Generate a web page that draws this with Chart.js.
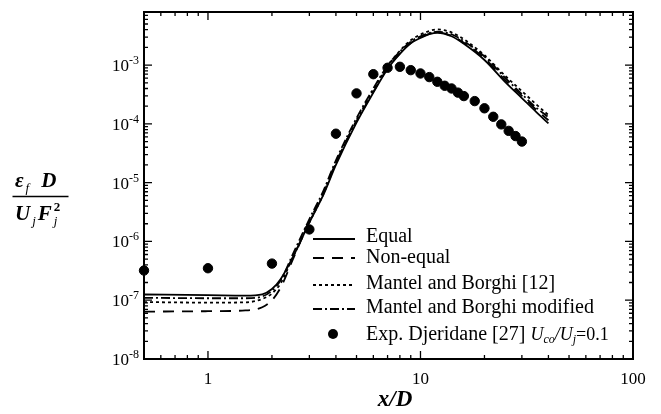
<!DOCTYPE html>
<html>
<head>
<meta charset="utf-8">
<script src="https://cdn.jsdelivr.net/npm/chart.js@4"></script>
<style>
html,body{margin:0;padding:0;background:#fff;}
canvas{display:block;}
</style>
</head>
<body>
<canvas id="c" width="661" height="414"></canvas>
<script>
// x/D where the model curves were read
const xModel = [0.5, 1, 1.5, 1.8, 2, 2.2, 2.5, 3, 3.5, 4, 5, 6, 7, 8, 9, 10, 11, 12, 14, 16, 20, 25, 30, 35, 40];
const yEqual = [1.25e-7, 1.22e-7, 1.2e-7, 1.26e-7, 1.55e-7, 2.3e-7, 5.3e-7, 2.1e-6, 6.3e-6, 2.0e-5, 1.05e-4, 3.4e-4, 8.6e-4, 1.55e-3, 2.35e-3, 2.9e-3, 3.35e-3, 3.55e-3, 3.1e-3, 2.3e-3, 1.22e-3, 5.2e-4, 2.75e-4, 1.6e-4, 1.02e-4];
const yNonEqual = [6.4e-8, 6.5e-8, 6.7e-8, 7.6e-8, 1.0e-7, 1.65e-7, 4.8e-7, 2.2e-6, 6.8e-6, 2.2e-5, 1.1e-4, 3.5e-4, 8.8e-4, 1.58e-3, 2.38e-3, 2.95e-3, 3.4e-3, 3.58e-3, 3.15e-3, 2.4e-3, 1.3e-3, 5.6e-4, 3.0e-4, 1.75e-4, 1.15e-4];
const yMantel = [9.3e-8, 9.1e-8, 9.2e-8, 1.05e-7, 1.3e-7, 1.95e-7, 5.2e-7, 2.1e-6, 6.5e-6, 2.15e-5, 1.15e-4, 3.8e-4, 9.6e-4, 1.75e-3, 2.65e-3, 3.3e-3, 3.8e-3, 4.05e-3, 3.6e-3, 2.75e-3, 1.47e-3, 6.6e-4, 3.6e-4, 2.16e-4, 1.41e-4];
const yMantelMod = [1.1e-7, 1.08e-7, 1.08e-7, 1.16e-7, 1.45e-7, 2.2e-7, 5.9e-7, 2.4e-6, 7.4e-6, 2.4e-5, 1.25e-4, 4.0e-4, 9.8e-4, 1.7e-3, 2.5e-3, 3.1e-3, 3.5e-3, 3.7e-3, 3.35e-3, 2.55e-3, 1.4e-3, 6.1e-4, 3.2e-4, 1.9e-4, 1.3e-4];

// Djeridane experiment
const xExp = [0.5, 1, 2, 3, 4, 5, 6, 7, 8, 9, 10, 11, 12, 13, 14, 15, 16, 18, 20, 22, 24, 26, 28, 30];
const yExp = [3.2e-7, 3.5e-7, 4.2e-7, 1.6e-6, 6.8e-5, 3.3e-4, 7.0e-4, 9.0e-4, 9.35e-4, 8.2e-4, 7.2e-4, 6.25e-4, 5.2e-4, 4.45e-4, 4.0e-4, 3.4e-4, 2.97e-4, 2.44e-4, 1.84e-4, 1.32e-4, 9.8e-5, 7.6e-5, 6.2e-5, 5.0e-5];

const xTickLabels = [1, 10, 100];
const yTickExps = [-8, -7, -6, -5, -4, -3];
const legendLabels = ['Equal', 'Non-equal', 'Mantel and Borghi [12]', 'Mantel and Borghi modified', 'Exp. Djeridane [27]'];

const SERIF = '"Liberation Serif", "Times New Roman", serif';

function pts(xs, ys) {
    return xs.map((x, i) => ({x: x, y: ys[i]}));
}

function lineSet(label, ys, dash) {
    return {
        type: 'line', label: label, data: pts(xModel, ys),
        borderColor: '#000', borderWidth: 1.8, borderDash: dash,
        pointRadius: 0, fill: false, cubicInterpolationMode: 'monotone'
    };
}

// text pieces with their own font and vertical shift
function drawRuns(ctx, x, y, runs) {
    runs.forEach(r => {
        ctx.font = r.f;
        ctx.fillText(r.t, x + (r.dx || 0), y + (r.dy || 0));
        if (!r.noAdvance) x += ctx.measureText(r.t).width + (r.dx || 0);
    });
    return x;
}

const framePlugin = {
    id: 'frame',
    afterDraw(chart) {
        const ctx = chart.ctx;
        const a = chart.chartArea;
        const xs = chart.scales.x, ys = chart.scales.y;
        ctx.save();
        ctx.strokeStyle = '#000';
        ctx.fillStyle = '#000';

        // ticks pointing inward, all four sides
        ctx.lineWidth = 1.3;
        ctx.beginPath();
        for (let d = -1; d <= 1; d++) {
            for (let m = 1; m <= 9; m++) {
                const v = m * Math.pow(10, d);
                if (v < 0.5 || v > 100) continue;
                const px = xs.getPixelForValue(v);
                const len = m === 1 ? 8 : 4;
                ctx.moveTo(px, a.bottom); ctx.lineTo(px, a.bottom - len);
                ctx.moveTo(px, a.top); ctx.lineTo(px, a.top + len);
            }
        }
        for (let d = -8; d <= -3; d++) {
            for (let m = 1; m <= 9; m++) {
                const v = m * Math.pow(10, d);
                if (v > ys.max) continue;
                const py = ys.getPixelForValue(v);
                const len = m === 1 ? 8 : 4;
                ctx.moveTo(a.left, py); ctx.lineTo(a.left + len, py);
                ctx.moveTo(a.right, py); ctx.lineTo(a.right - len, py);
            }
        }
        ctx.stroke();

        ctx.lineWidth = 2;
        ctx.strokeRect(a.left, a.top, a.right - a.left, a.bottom - a.top);

        // tick labels
        ctx.textBaseline = 'alphabetic';
        ctx.textAlign = 'center';
        ctx.font = '17px ' + SERIF;
        xTickLabels.forEach(v => {
            ctx.fillText(String(v), xs.getPixelForValue(v), 384);
        });
        ctx.textAlign = 'left';
        yTickExps.forEach(e => {
            const py = ys.getPixelForValue(Math.pow(10, e));
            ctx.font = '12px ' + SERIF;
            const wSup = ctx.measureText(String(e)).width;
            ctx.font = '17px ' + SERIF;
            const wBase = ctx.measureText('10').width;
            const x0 = a.left - 5 - wSup - wBase;
            drawRuns(ctx, x0, py + 6, [
                {t: '10', f: '17px ' + SERIF},
                {t: String(e), f: '12px ' + SERIF, dy: -7}
            ]);
        });

        // x title
        ctx.textAlign = 'center';
        ctx.font = 'italic bold 23px ' + SERIF;
        ctx.fillText('x/D', 395, 406);
        ctx.textAlign = 'left';

        // y title as a fraction
        const bi = 'italic bold 21px ' + SERIF;
        drawRuns(ctx, 15, 187, [
            {t: '\u03b5', f: bi},
            {t: 'f', f: 'italic 13px ' + SERIF, dx: 2, dy: 5},
            {t: 'D', f: bi, dx: 12}
        ]);
        ctx.lineWidth = 1.5;
        ctx.beginPath();
        ctx.moveTo(12.5, 196.5); ctx.lineTo(68.5, 196.5);
        ctx.stroke();
        drawRuns(ctx, 15, 220, [
            {t: 'U', f: bi},
            {t: 'j', f: 'italic 13px ' + SERIF, dx: 2, dy: 5},
            {t: 'F', f: bi, dx: 2},
            {t: '2', f: 'bold 13px ' + SERIF, dx: 2, dy: -9, noAdvance: true},
            {t: 'j', f: 'italic 13px ' + SERIF, dx: 2, dy: 5}
        ]);

        // legend
        const styles = chart.data.datasets;
        const lineY = [239, 258, 285, 309, 334];
        const textY = [242, 263, 289, 313, 340];
        for (let i = 0; i < 4; i++) {
            ctx.setLineDash(styles[i].borderDash || []);
            ctx.lineWidth = 1.8;
            ctx.beginPath();
            ctx.moveTo(313, lineY[i]); ctx.lineTo(355, lineY[i]);
            ctx.stroke();
            ctx.setLineDash([]);
            ctx.font = '20px ' + SERIF;
            ctx.fillText(legendLabels[i], 366, textY[i]);
        }
        ctx.beginPath();
        ctx.arc(333, lineY[4], 5, 0, Math.PI * 2);
        ctx.fill();
        let ex = drawRuns(ctx, 366, textY[4], [{t: legendLabels[4] + ' ', f: '20px ' + SERIF}]);
        const it = 'italic 18px ' + SERIF, sub = 'italic 12px ' + SERIF;
        drawRuns(ctx, ex, textY[4], [
            {t: 'U', f: it},
            {t: 'co', f: sub, dy: 3},
            {t: '/', f: it},
            {t: 'U', f: it},
            {t: 'j', f: sub, dy: 3},
            {t: '=0.1', f: '18px ' + SERIF}
        ]);
        ctx.restore();
    }
};

new Chart(document.getElementById('c'), {
    type: 'line',
    data: {
        datasets: [
            lineSet('Equal', yEqual, []),
            lineSet('Non-equal', yNonEqual, [11, 8]),
            lineSet('Mantel and Borghi [12]', yMantel, [3, 3]),
            lineSet('Mantel and Borghi modified', yMantelMod, [9, 3, 2, 3]),
            {
                type: 'scatter', label: 'Exp. Djeridane [27]', data: pts(xExp, yExp),
                backgroundColor: '#000', borderColor: '#000', pointRadius: 4.7,
                showLine: false, clip: false
            }
        ]
    },
    options: {
        responsive: false,
        animation: false,
        devicePixelRatio: 1,
        layout: {padding: {left: 144, right: 28, top: 12, bottom: 55}},
        scales: {
            x: {type: 'logarithmic', min: 0.5, max: 100, display: false},
            y: {type: 'logarithmic', min: 1e-8, max: 8e-3, display: false}
        },
        plugins: {legend: {display: false}, tooltip: {enabled: false}}
    },
    plugins: [framePlugin]
});
</script>
</body>
</html>
